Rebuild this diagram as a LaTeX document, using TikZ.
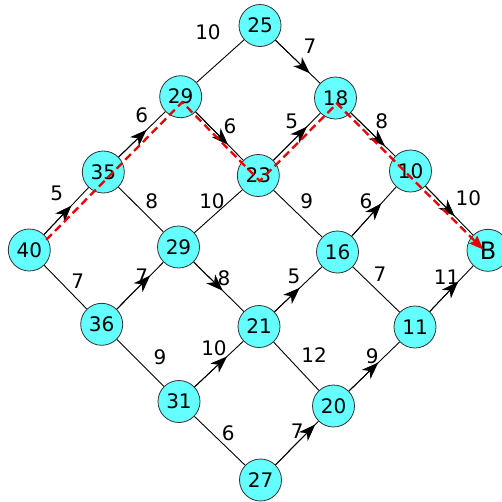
\documentclass[tikz,border=0pt]{standalone}
\usepackage{fontspec}
\setmainfont{DejaVu Sans}
\usetikzlibrary{arrows.meta,calc}
\definecolor{nodefill}{RGB}{100,255,255}
\definecolor{nodeedge}{RGB}{50,50,50}
\definecolor{pathred}{RGB}{230,0,0}

\begin{document}
\begin{tikzpicture}[x=1pt,y=-1pt,
  vertex/.style={circle,draw=nodeedge,fill=nodefill,line width=0.8pt,
    minimum size=42pt,inner sep=0pt,font=\fontsize{20}{20}\selectfont},
  edge/.style={line width=0.9pt,black},
  tip/.style={edge,-{Stealth[length=17pt,width=12.5pt,inset=5pt]}},
  weight/.style={font=\fontsize{20}{20}\selectfont,inner sep=0pt},
  route/.style={pathred,line width=2.3pt,dash pattern=on 8pt off 4.5pt,
    -{Stealth[length=14pt,width=11pt,inset=2pt]}},
  rshift/.style={shift={(1.5,5.5)}}]
\useasboundingbox (0,0) rectangle (502,501);

% vertices
\node[vertex] (n25)  at (260,25.5)  {25};
\node[vertex] (n29a) at (180.7,96.7) {29};
\node[vertex] (n18)  at (335.5,98)  {18};
\node[vertex] (n35)  at (103.3,172) {35};
\node[vertex] (n23)  at (258.3,175.5) {23};
\node[vertex] (n10)  at (410.5,171) {10};
\node[vertex] (n40)  at (29.3,250)  {40};
\node[vertex] (n29b) at (178.5,247) {29};
\node[vertex] (n16)  at (337.5,252) {16};
\node[vertex,font=\fontsize{24}{24}\selectfont] (nB) at (488,250.3) {B};
\node[vertex] (n36)  at (101.7,324.3) {36};
\node[vertex] (n21)  at (259,326.5) {21};
\node[vertex] (n11)  at (415,327)   {11};
\node[vertex] (n31)  at (179,401.5) {31};
\node[vertex] (n20)  at (333.5,406) {20};
\node[vertex] (n27)  at (260.5,480) {27};

% undirected connections
\foreach \a/\b in {n29a/n25, n35/n29b, n40/n36, n36/n31, n29b/n23,
                   n23/n16, n21/n20, n16/n11, n31/n27}
  \draw[edge] (\a) -- (\b);

% directed connections, head placed part way along
\foreach \a/\b/\f in {n40/n35/0.57, n35/n29a/0.56, n29a/n23/0.61, n23/n18/0.63,
                      n25/n18/0.66, n18/n10/0.66, n10/nB/0.57, n16/n10/0.60,
                      n36/n29b/0.63, n29b/n21/0.55, n21/n16/0.52, n31/n21/0.60,
                      n27/n20/0.75, n20/n11/0.55, n11/nB/0.59}
{
  \draw[edge] (\a) -- (\b);
  \draw[tip] (\a) -- ($(\a)!\f!(\b)$);
}

% weights
\node[weight] (w1)  at (208,32)    {10};
\node[weight] (w2)  at (310,46.7)  {7};
\node[weight] (w3)  at (141.7,115) {6};
\node[weight] (w4)  at (230,126.7) {6};
\node[weight] (w5)  at (291.7,121.7) {5};
\node[weight] (w6)  at (381.7,121.7) {8};
\node[weight] (w7)  at (56.7,193.3) {5};
\node[weight] (w8)  at (151.7,201.7) {8};
\node[weight] (w9)  at (212,201.7) {10};
\node[weight] (w10) at (306.7,201.7) {9};
\node[weight] (w11) at (366,201.7) {6};
\node[weight] (w12) at (468.3,198.3) {10};
\node[weight] (w13) at (77.7,281.7) {7};
\node[weight] (w14) at (141.7,276.7) {7};
\node[weight] (w15) at (224,278.3) {8};
\node[weight] (w16) at (294,276.7) {5};
\node[weight] (w17) at (380,274)   {7};
\node[weight] (w18) at (446.7,277.3) {11};
\node[weight] (w19) at (160,357.3) {9};
\node[weight] (w20) at (214,348.3) {10};
\node[weight] (w21) at (314,355)   {12};
\node[weight] (w22) at (372.3,356) {9};
\node[weight] (w23) at (228.3,433) {6};
\node[weight] (w24) at (297.3,431) {7};

% highlighted route
\draw[route,shorten <=22pt,shorten >=9pt]
  ([rshift]n40.center) -- ([rshift]n29a.center) -- ([rshift]n23.center)
  -- ([rshift]n18.center) -- ([rshift]nB.center);
\end{tikzpicture}
\end{document}
